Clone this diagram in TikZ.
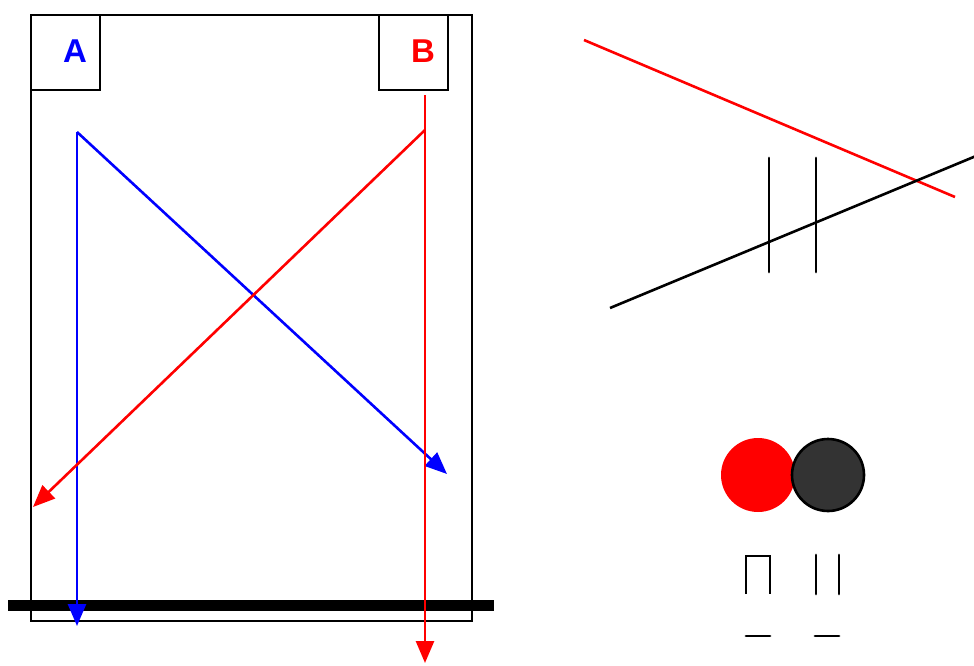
\documentclass[tikz,border=0pt]{standalone}
\usepackage{fontspec}
\setmainfont{Liberation Sans}
\usetikzlibrary{arrows.meta}
\begin{document}
\begin{tikzpicture}[x=1pt,y=-1pt,
  frame/.style={draw=black,line width=2.6pt},
  ray/.style={line width=2.6pt,-{Triangle[length=22pt,width=18pt]}},
  plain/.style={line width=2.8pt,line cap=round},
  lbl/.style={font=\bfseries\fontsize{33}{36}\selectfont}]
\useasboundingbox (0,0) rectangle (974,665);
% outer frame and boxes
\draw[frame] (31,15) rectangle (472,621);
\draw[frame] (31,15) rectangle (100,90);
\draw[frame] (379,15) rectangle (448,90);
\node[lbl,text=blue] (A) at (75,51) {A};
\node[lbl,text=red] (B) at (423,51) {B};
% coordinates
\coordinate (a0) at (77,132);
\coordinate (a1) at (77,626);
\coordinate (a2) at (447,474);
\coordinate (b0) at (425,95);
\coordinate (b1) at (425,663);
\coordinate (b2) at (425,130);
\coordinate (b3) at (33,507);
% thick bar
\coordinate (t0) at (8,605);
\coordinate (t1) at (494,605);
\draw[line width=11pt] (t0) -- (t1);
% rays
\draw[ray,blue] (a0) -- (a1);
\draw[ray,blue] (a0) -- (a2);
\draw[ray,red] (b0) -- (b1);
\draw[ray,red] (b2) -- (b3);
% right top lines
\coordinate (r0) at (584,40);
\coordinate (r1) at (955,197);
\coordinate (k0) at (610,308);
\coordinate (k1) at (976,156);
\draw[red,line width=2.6pt] (r0) -- (r1);
\draw[line width=2.6pt] (k0) -- (k1);
\coordinate (v1a) at (769,158); \coordinate (v1b) at (769,272);
\coordinate (v2a) at (816,158); \coordinate (v2b) at (816,272);
\draw[plain] (v1a) -- (v1b);
\draw[plain] (v2a) -- (v2b);
% circles
\node[circle,fill=red,minimum size=74pt,inner sep=0pt] (c1) at (758,475) {};
\node[circle,fill={rgb,255:red,51;green,51;blue,51},draw=black,line width=2.6pt,minimum size=72pt,inner sep=0pt] (c2) at (828,475) {};
% small glyphs
\coordinate (p0) at (746,594); \coordinate (p1) at (746,556);
\coordinate (p2) at (770,556); \coordinate (p3) at (770,594);
\draw[line width=2.8pt] (p0) -- (p1) -- (p2) -- (p3);
\coordinate (q0) at (816,555); \coordinate (q1) at (816,594);
\coordinate (q2) at (839,555); \coordinate (q3) at (839,594);
\draw[plain] (q0) -- (q1);
\draw[plain] (q2) -- (q3);
\coordinate (u0) at (746,636); \coordinate (u1) at (770,636);
\coordinate (u2) at (815,636); \coordinate (u3) at (839,636);
\draw[plain] (u0) -- (u1);
\draw[plain] (u2) -- (u3);
\end{tikzpicture}
\end{document}
